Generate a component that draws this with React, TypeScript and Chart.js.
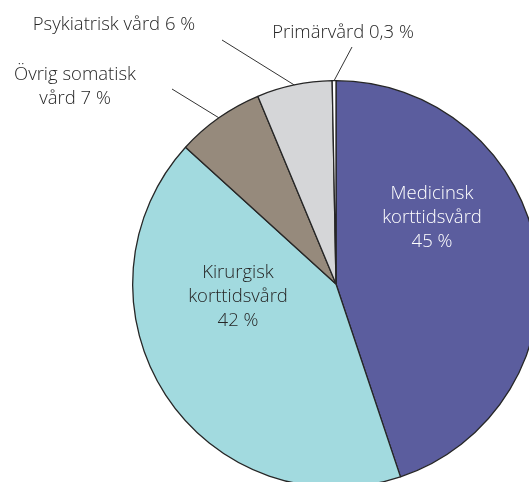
import React, { useEffect, useRef } from "react";
import { Chart, registerables } from "chart.js";

Chart.register(...registerables);

const categories = [
  "Medicinsk korttidsvård",
  "Kirurgisk korttidsvård",
  "Övrig somatisk vård",
  "Psykiatrisk vård",
  "Primärvård",
];
const values = [45, 42, 7, 6, 0.3];
const valueLabels = ["45 %", "42 %", "7 %", "6 %", "0,3 %"];
const colors = ["#5B5D9E", "#A2DADF", "#968A7C", "#D5D6D8", "#FFFFFF"];

// label text lines per slice
const labelLines = [
  ["Medicinsk", "korttidsvård", valueLabels[0]],
  ["Kirurgisk", "korttidsvård", valueLabels[1]],
  ["Övrig somatisk", "vård " + valueLabels[2]],
  ["Psykiatrisk vård " + valueLabels[3]],
  ["Primärvård " + valueLabels[4]],
];

const FONT = "300 18.5px 'Open Sans', 'Noto Sans', sans-serif";
const CW = 672;
const CH = 568;

// label placement (relative to pie center, in px), and leader line start
const labelCfg = [
  { inside: true, dx: 96, dy: -66, color: "#FFFFFF" },
  { inside: true, dx: -98, dy: 13, color: "#262626" },
  { inside: false, dx: -261, dy: -197, color: "#262626", lx: -164, ly: -195 },
  { inside: false, dx: -222, dy: -259, color: "#262626", lx: -114, ly: -244 },
  { inside: false, dx: 7, dy: -251, color: "#262626", lx: 16, ly: -237 },
];

const labelPlugin = {
  id: "sliceLabels",
  afterDatasetsDraw(chart: any) {
    const ctx = chart.ctx;
    const meta = chart.getDatasetMeta(0);
    ctx.save();
    ctx.font = FONT;
    ctx.textAlign = "center";
    ctx.textBaseline = "middle";
    meta.data.forEach((arc: any, i: number) => {
      const cfg = labelCfg[i];
      const { x, y, startAngle, endAngle, outerRadius } = arc.getProps(
        ["x", "y", "startAngle", "endAngle", "outerRadius"],
        true
      );
      const lines = labelLines[i];
      const lh = 24;
      const cx = x + cfg.dx;
      const cy = y + cfg.dy;
      if (!cfg.inside) {
        const mid = (startAngle + endAngle) / 2;
        const ex = x + Math.cos(mid) * outerRadius;
        const ey = y + Math.sin(mid) * outerRadius;
        ctx.strokeStyle = "#333333";
        ctx.lineWidth = 1;
        ctx.beginPath();
        ctx.moveTo(x + (cfg.lx as number), y + (cfg.ly as number));
        ctx.lineTo(ex, ey);
        ctx.stroke();
      }
      ctx.fillStyle = cfg.color;
      lines.forEach((t, k) => {
        ctx.fillText(t, cx, cy + (k - (lines.length - 1) / 2) * lh);
      });
    });
    ctx.restore();
  },
};

export default function App() {
  const ref = useRef<HTMLCanvasElement | null>(null);
  useEffect(() => {
    if (!ref.current) return;
    const chart = new Chart(ref.current, {
      type: "pie",
      data: {
        labels: categories,
        datasets: [
          {
            data: values,
            backgroundColor: colors,
            borderColor: "#262626",
            borderWidth: 1.3,
          },
        ],
      },
      options: {
        responsive: false,
        animation: false,
        layout: { padding: { left: 132, right: 132, top: 80, bottom: 80 } },
        plugins: {
          legend: { display: false },
          tooltip: { enabled: false },
        },
      },
      plugins: [labelPlugin],
    });
    return () => chart.destroy();
  }, []);
  return (
    <div
      style={{
        position: "absolute",
        left: 0,
        top: 0,
        width: 529,
        height: 482,
        overflow: "hidden",
        background: "#fff",
      }}
    >
      <canvas ref={ref} width={CW} height={CH} style={{ display: "block" }} />
    </div>
  );
}
